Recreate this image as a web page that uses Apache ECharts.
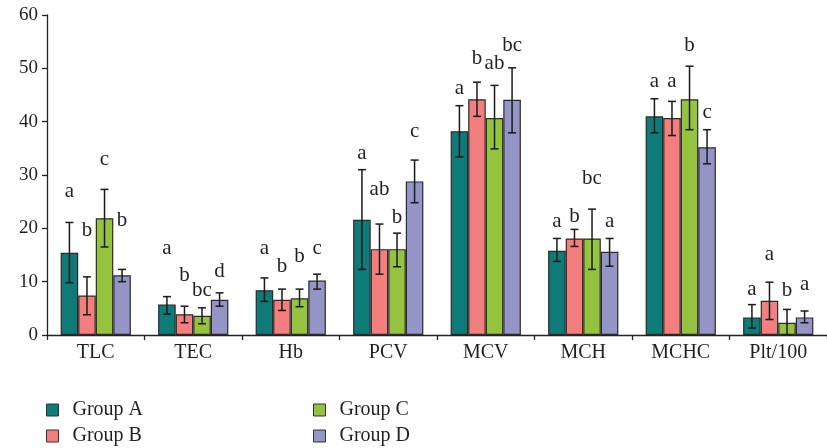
<!DOCTYPE html>
<html>
<head>
<meta charset="utf-8">
<script src="https://cdn.jsdelivr.net/npm/echarts@6/dist/echarts.min.js"></script>
<style>
  html, body { margin: 0; padding: 0; background: #fff; }
  #chart { width: 827px; height: 448px; }
</style>
</head>
<body>
<div id="chart"></div>
<script>
// categories and group names
const categories = ['TLC', 'TEC', 'Hb', 'PCV', 'MCV', 'MCH', 'MCHC', 'Plt/100'];
const groupNames = ['Group A', 'Group B', 'Group C', 'Group D'];
const yTicks = [0, 10, 20, 30, 40, 50, 60];

// means
const meanA = [15.4, 5.7, 8.4, 21.6, 38.2, 15.8, 41.0, 3.3];
const meanB = [7.4, 3.9, 6.6, 16.1, 44.2, 18.1, 40.7, 6.4];
const meanC = [21.9, 3.6, 6.9, 16.1, 40.7, 18.1, 44.2, 2.3];
const meanD = [11.2, 6.6, 10.2, 28.8, 44.1, 15.6, 35.2, 3.3];

// error bar ends (low / high)
const lowA  = [9.8, 3.9, 6.3, 12.3, 33.4, 13.8, 37.9, 1.3];
const highA = [21.1, 7.2, 10.7, 31.0, 43.0, 18.1, 44.3, 5.7];
const lowB  = [3.8, 2.3, 4.6, 11.4, 41.0, 16.6, 37.4, 2.9];
const highB = [10.9, 5.4, 8.6, 20.8, 47.4, 19.8, 43.8, 9.9];
const lowC  = [16.5, 2.1, 5.3, 12.8, 34.9, 12.3, 38.5, 0];
const highC = [27.3, 5.1, 8.6, 19.1, 46.8, 23.6, 50.4, 4.8];
const lowD  = [10.0, 5.4, 8.6, 24.8, 37.9, 12.9, 32.1, 2.3];
const highD = [12.3, 7.9, 11.4, 32.8, 50.1, 18.1, 38.5, 4.5];

// significance letters and the value height they sit at
const letA = ['a', 'a', 'a', 'a', 'a', 'a', 'a', 'a'];
const letB = ['b', 'b', 'b', 'ab', 'b', 'b', 'a', 'a'];
const letC = ['c', 'bc', 'b', 'b', 'ab', 'bc', 'b', 'b'];
const letD = ['b', 'd', 'c', 'c', 'bc', 'a', 'c', 'a'];
const letYA = [27, 16.2, 16.2, 34, 46.2, 21.3, 47.6, 8.5];
const letYB = [19.6, 11.2, 12.9, 27.3, 51.8, 22.3, 47.6, 15.1];
const letYC = [32.9, 8.3, 14.8, 22, 51, 29.3, 54.2, 8.4];
const letYD = [21.4, 12, 16.2, 38.1, 54.2, 21.3, 41.7, 9.4];

const colors = ['#0f7b78', '#f27f7e', '#95c23f', '#9494c6'];
const means = [meanA, meanB, meanC, meanD];
const lows = [lowA, lowB, lowC, lowD];
const highs = [highA, highB, highC, highD];
const letters = [letA, letB, letC, letD];
const letterYs = [letYA, letYB, letYC, letYD];

const FONT = '"Liberation Serif", "DejaVu Serif", serif';
const TXT = '#231f20';
const GAP = 0.28; // barCategoryGap

const chart = echarts.init(document.getElementById('chart'));

// error bars + letters drawn on top of the bars
function errRender(g) {
  return function (params, api) {
    const cat = api.value(0);
    const band = api.size([1, 0])[0];
    const bw = band * (1 - GAP) / 4;
    const x = api.coord([cat, 0])[0] + (g - 1.5) * bw;
    const yLow = api.coord([cat, api.value(1)])[1];
    const yHigh = api.coord([cat, api.value(2)])[1];
    const yLet = api.coord([cat, api.value(3)])[1];
    const cap = 4;
    const ls = { stroke: '#1a1a1a', lineWidth: 1.5 };
    return {
      type: 'group',
      children: [
        { type: 'line', shape: { x1: x, y1: yLow, x2: x, y2: yHigh }, style: ls },
        { type: 'line', shape: { x1: x - cap, y1: yHigh, x2: x + cap, y2: yHigh }, style: ls },
        { type: 'line', shape: { x1: x - cap, y1: yLow, x2: x + cap, y2: yLow }, style: ls },
        {
          type: 'text',
          style: {
            x: x, y: yLet,
            text: letters[g][params.dataIndex],
            align: 'center', verticalAlign: 'middle',
            font: '21px ' + FONT, fill: TXT
          }
        }
      ]
    };
  };
}

const series = [];
groupNames.forEach(function (name, g) {
  series.push({
    name: name,
    type: 'bar',
    data: means[g],
    barCategoryGap: (GAP * 100) + '%',
    barGap: '0%',
    itemStyle: { color: colors[g], borderColor: '#2a2a2a', borderWidth: 1.2 },
    z: 2
  });
});
groupNames.forEach(function (name, g) {
  series.push({
    type: 'custom',
    renderItem: errRender(g),
    data: categories.map(function (c, i) { return [i, lows[g][i], highs[g][i], letterYs[g][i]]; }),
    z: 5,
    silent: true
  });
});

const legendCommon = {
  orient: 'vertical',
  icon: 'rect',
  padding: 0,
  height: 60,
  itemWidth: 12,
  itemHeight: 12,
  itemGap: 6,
  itemStyle: { borderColor: '#333', borderWidth: 1 },
  textStyle: { fontFamily: FONT, fontSize: 20, color: TXT, lineHeight: 20, padding: [0, 0, 0, 9] }
};

chart.setOption({
  animation: false,
  backgroundColor: '#fff',
  textStyle: { fontFamily: FONT },
  grid: { left: 47, top: 15, width: 788, height: 320, containLabel: false },
  legend: [
    Object.assign({ data: ['Group A', 'Group B'], left: 46, top: 400 }, legendCommon),
    Object.assign({ data: ['Group C', 'Group D'], left: 313, top: 400 }, legendCommon)
  ],
  xAxis: {
    type: 'category',
    data: categories,
    axisLine: { lineStyle: { color: '#222', width: 1.3 } },
    axisTick: { show: true, interval: 0, length: 5, lineStyle: { color: '#222', width: 1.3 } },
    axisLabel: { fontFamily: FONT, fontSize: 20, color: TXT, margin: 8, interval: 0 }
  },
  yAxis: {
    type: 'value',
    min: yTicks[0],
    max: yTicks[yTicks.length - 1],
    interval: 10,
    splitLine: { show: false },
    axisLine: { show: true, lineStyle: { color: '#222', width: 1.3 } },
    axisTick: { show: true, length: 5, lineStyle: { color: '#222', width: 1.3 } },
    axisLabel: { fontFamily: FONT, fontSize: 19, color: TXT, margin: 9 }
  },
  series: series
});
</script>
</body>
</html>
